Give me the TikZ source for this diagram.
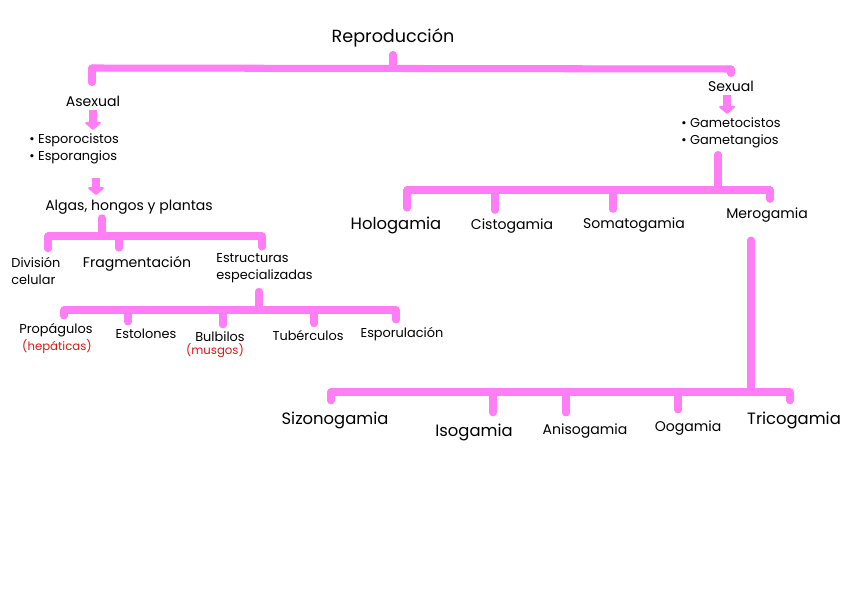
\documentclass[tikz,border=0pt]{standalone}
\usepackage{fontspec}
\setmainfont{Poppins}
\usetikzlibrary{arrows.meta}
\definecolor{rosa}{RGB}{255,125,245}
\definecolor{rojo}{RGB}{215,25,25}

\begin{document}
\begin{tikzpicture}[x=0.03cm,y=-0.03cm,
  rama/.style={rosa, line width=6pt, line cap=round, line join=round},
  flecha/.style={rosa, line width=6pt, -{Triangle[length=7pt,width=16pt,round]}},
  titulo/.style={inner sep=1pt, font=\fontsize{15}{17}\selectfont},
  lg/.style={inner sep=1pt, font=\fontsize{14}{16}\selectfont},
  md/.style={inner sep=1pt, font=\fontsize{12}{14}\selectfont},
  sm/.style={inner sep=1pt, font=\fontsize{11}{15}\selectfont},
  nota/.style={inner sep=1pt, text=rojo, font=\fontsize{10}{12}\selectfont}]
  \fill[white] (0,0) rectangle (848,599);
  \useasboundingbox (0,0) rectangle (848,599);

  % Titulo
  \node[titulo] (repro) at (393,38) {Reproducción};

  % Rama asexual
  \node[md] (asex) at (93,101) {Asexual};
  \node[sm, align=left, anchor=west] (espor) at (28,149) {\textbullet\ Esporocistos\\\textbullet\ Esporangios};
  \node[md] (algas) at (129,207) {Algas, hongos y plantas};
  \node[sm, align=left, anchor=west] (divi) at (10,271) {División\\celular};
  \node[md] (frag) at (137,264) {Fragmentación};
  \node[sm, align=left, anchor=west] (estr) at (215,268) {Estructuras\\especializadas};
  \node[sm] (propa) at (56,330) {Propágulos};
  \node[nota] (hepa) at (57,347) {(hepáticas)};
  \node[sm] (estol) at (146,334) {Estolones};
  \node[sm] (bulbi) at (220,337) {Bulbilos};
  \node[nota] (musg) at (215,351) {(musgos)};
  \node[sm] (tuber) at (308,336) {Tubérculos};
  \node[sm] (esporu) at (402,334) {Esporulación};

  % Rama sexual
  \node[md] (sex) at (731,86) {Sexual};
  \node[sm, align=left, anchor=west] (game) at (680,133) {\textbullet\ Gametocistos\\\textbullet\ Gametangios};
  \node[lg] (holo) at (396,225) {Hologamia};
  \node[md] (cisto) at (512,226) {Cistogamia};
  \node[md] (soma) at (634,225) {Somatogamia};
  \node[md] (mero) at (767,215) {Merogamia};
  \node[lg] (sizo) at (335,420) {Sizonogamia};
  \node[lg] (iso) at (474,432) {Isogamia};
  \node[md] (aniso) at (585,431) {Anisogamia};
  \node[md] (oog) at (688,428) {Oogamia};
  \node[lg] (trico) at (794,420) {Tricogamia};

  % Puntos de las barras
  \coordinate (b1a) at (92,68);
  \coordinate (b1b) at (393,68);
  \coordinate (b1c) at (731,69);
  \coordinate (b2a) at (48,236);
  \coordinate (b2b) at (102,236);
  \coordinate (b2c) at (119,236);
  \coordinate (b2d) at (262,236);
  \coordinate (b3a) at (64,310);
  \coordinate (b3b) at (128,310);
  \coordinate (b3c) at (223,310);
  \coordinate (b3d) at (259,310);
  \coordinate (b3e) at (314,310);
  \coordinate (b3f) at (396,310);
  \coordinate (b4a) at (407,190);
  \coordinate (b4b) at (495,190);
  \coordinate (b4c) at (613,190);
  \coordinate (b4d) at (718,190);
  \coordinate (b4e) at (770,190);
  \coordinate (b5a) at (331,392);
  \coordinate (b5b) at (493,392);
  \coordinate (b5c) at (566,392);
  \coordinate (b5d) at (678,392);
  \coordinate (b5e) at (751,392);
  \coordinate (b5f) at (790,392);

  % Barra superior
  \draw[rama] (b1a) -- (b1c);
  \draw[rama, shorten <=5pt] (repro.south -| b1b) -- (b1b);
  \draw[rama, shorten >=10pt] (b1a) -- (asex.north -| b1a);
  \draw[rama, shorten >=5pt] (b1c) -- (sex.north -| b1c);

  % Flechas
  \draw[flecha, shorten <=2pt, shorten >=2pt] (asex.south) -- (espor.north -| asex.south);
  \draw[flecha, shorten <=10pt, shorten >=3pt] (espor.south -| 96,0) -- (algas.north -| 96,0);
  \draw[flecha, shorten <=2pt, shorten >=2pt] (sex.south -| 727,0) -- (game.north -| 727,0);

  % Algas, hongos y plantas
  \draw[rama] (b2a) -- (b2d);
  \draw[rama, shorten <=2pt] (algas.south -| b2b) -- (b2b);
  \draw[rama, shorten >=6pt] (b2a) -- (divi.north -| b2a);
  \draw[rama, shorten >=6pt] (b2c) -- (frag.north -| b2c);
  \draw[rama, shorten >=4pt] (b2d) -- (estr.north -| b2d);

  % Estructuras especializadas
  \draw[rama] (b3a) -- (b3f);
  \draw[rama, shorten <=6pt] (estr.south -| b3d) -- (b3d);
  \foreach \p/\n in {b3a/propa, b3b/estol, b3c/bulbi, b3e/tuber, b3f/esporu}
    \draw[rama, shorten >=5pt] (\p) -- (\n.north -| \p);

  % Gametocistos y gametangios
  \draw[rama] (b4a) -- (b4e);
  \draw[rama, shorten <=4pt] (game.south -| b4d) -- (b4d);
  \foreach \p/\n in {b4a/holo, b4b/cisto, b4c/soma, b4e/mero}
    \draw[rama, shorten >=6pt] (\p) -- (\n.north -| \p);

  % Merogamia
  \draw[rama] (b5a) -- (b5f);
  \draw[rama, shorten <=14pt] (mero.south -| b5e) -- (b5e);
  \foreach \p/\n in {b5a/sizo, b5b/iso, b5c/aniso, b5d/oog, b5f/trico}
    \draw[rama, shorten >=8pt] (\p) -- (\n.north -| \p);
\end{tikzpicture}
\end{document}
